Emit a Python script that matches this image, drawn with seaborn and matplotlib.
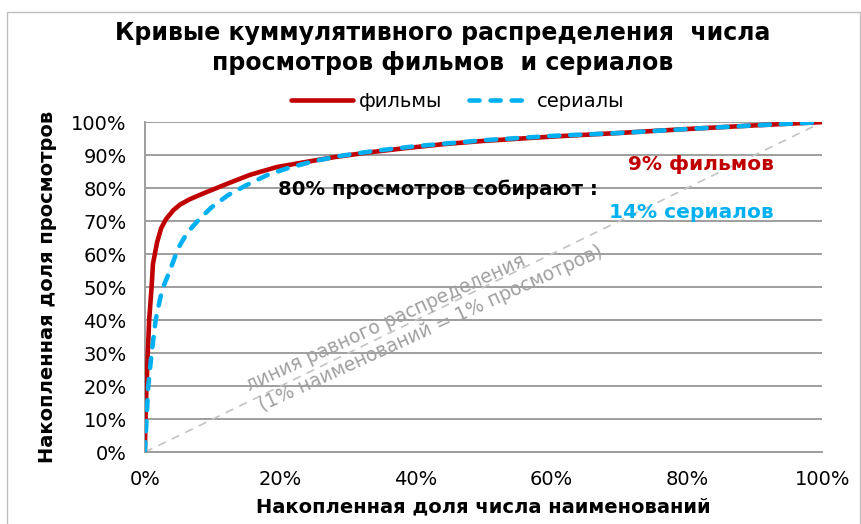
import matplotlib
matplotlib.use("Agg")
import matplotlib.pyplot as plt
import matplotlib.patches as patches
import seaborn as sns

# cumulative share of titles (%) vs cumulative share of views (%)
films_x = [0, 0.1, 0.25, 0.44, 0.64, 1.0, 1.2, 1.8, 2.4, 3.1, 4.2, 5.2, 6.6, 9.0,
           12.5, 15.5, 19.5, 24, 28, 33, 38, 44, 50, 60, 70, 80, 90, 100]
films_y = [0, 10, 20, 30, 40, 50, 57, 63.5, 67.8, 70.5, 73.3, 75, 76.6, 78.7,
           81.6, 84, 86.4, 88, 89.4, 90.8, 92, 93.3, 94.3, 95.6, 96.7, 97.9, 99, 100]

serials_x = [0, 0.25, 0.5, 1.0, 1.6, 2.2, 2.7, 3.7, 4.9, 6.2, 7.9, 9.8, 12.3, 15,
             18, 21, 25, 29, 34, 40, 50, 60, 70, 80, 90, 100]
serials_y = [0, 10, 20, 30, 40, 46, 50, 55, 61.7, 66.3, 70.3, 74.1, 77.9, 80.9,
             83.9, 86, 88.2, 89.8, 91.3, 92.7, 94.5, 95.8, 96.7, 97.9, 99, 100]

equal_x = [0, 100]
equal_y = [0, 100]

x_ticks = [0, 20, 40, 60, 80, 100]
y_ticks = list(range(0, 101, 10))

RED = '#C00000'
BLUE = '#00B0F0'
GRID = '#9E9E9E'

sns.set_theme(style='white')
plt.rcParams['font.family'] = ['DejaVu Sans']
plt.rcParams['text.color'] = 'black'
plt.rcParams['axes.labelcolor'] = 'black'

fig = plt.figure(figsize=(8.62, 5.24), dpi=100)
ax = fig.add_axes([0.168, 0.137, 0.786, 0.630])

ax.plot(equal_x, equal_y, color='#C4C4C4', lw=1.2, dashes=(5, 4), zorder=2)
sns.lineplot(x=films_x, y=films_y, ax=ax, color=RED, lw=3.3, sort=False,
             label='фильмы', zorder=3)
sns.lineplot(x=serials_x, y=serials_y, ax=ax, color=BLUE, lw=3.3, sort=False,
             dashes=(2.2, 2.4), dash_capstyle='round', label='сериалы', zorder=4)

ax.set_xlim(0, 100)
ax.set_ylim(0, 100)
ax.set_xticks(x_ticks)
ax.set_yticks(y_ticks)
ax.set_xticklabels([f'{v}%' for v in x_ticks])
ax.set_yticklabels([f'{v}%' for v in y_ticks])
ax.yaxis.grid(True, color=GRID, lw=1.4)
ax.xaxis.grid(False)
ax.set_axisbelow(True)
for side in ['top', 'right']:
    ax.spines[side].set_visible(False)
for side in ['left', 'bottom']:
    ax.spines[side].set_color(GRID)
    ax.spines[side].set_linewidth(1.4)
ax.tick_params(axis='both', which='major', labelsize=14, labelcolor='black',
               length=5, width=1.4, direction='out', color=GRID)
ax.tick_params(axis='y', pad=8)
ax.tick_params(axis='x', pad=8)

ax.set_xlabel('Накопленная доля числа наименований', fontsize=14,
              fontweight='bold', labelpad=6)
ax.set_ylabel('Накопленная доля просмотров', fontsize=14,
              fontweight='bold', labelpad=10)

fig.text(0.514, 0.937, 'Кривые куммулятивного распределения  числа',
         ha='center', va='center', fontsize=17, fontweight='bold')
fig.text(0.514, 0.880, 'просмотров фильмов  и сериалов',
         ha='center', va='center', fontsize=17, fontweight='bold')

leg = ax.legend(loc='center', bbox_to_anchor=(0.531, 0.807),
                bbox_transform=fig.transFigure, ncol=2, frameon=False,
                fontsize=14, handlelength=3.2, columnspacing=1.4,
                handletextpad=0.3)

ax.text(19.6, 79.7, '80% просмотров собирают :', fontsize=14.1,
        fontweight='bold', color='black', ha='left', va='center')
ax.text(92.8, 87.3, '9% фильмов', fontsize=14.5, fontweight='bold',
        color=RED, ha='right', va='center')
ax.text(92.8, 72.7, '14% сериалов', fontsize=14.5, fontweight='bold',
        color=BLUE, ha='right', va='center')

ax.text(15.5, 18.5, 'линия равного распределения', fontsize=13.5,
        color='#A0A0A0', rotation=24.5, rotation_mode='anchor',
        ha='left', va='baseline')
ax.text(17.4, 12.3, '(1% наименований = 1% просмотров)', fontsize=13.5,
        color='#A0A0A0', rotation=24.5, rotation_mode='anchor',
        ha='left', va='baseline')

border = patches.Rectangle((0.008, -0.02), 0.99, 0.997, transform=fig.transFigure,
                           fill=False, edgecolor='#BFBFBF', lw=1.0)
fig.patches.append(border)

fig.savefig('out.png', dpi=100)
